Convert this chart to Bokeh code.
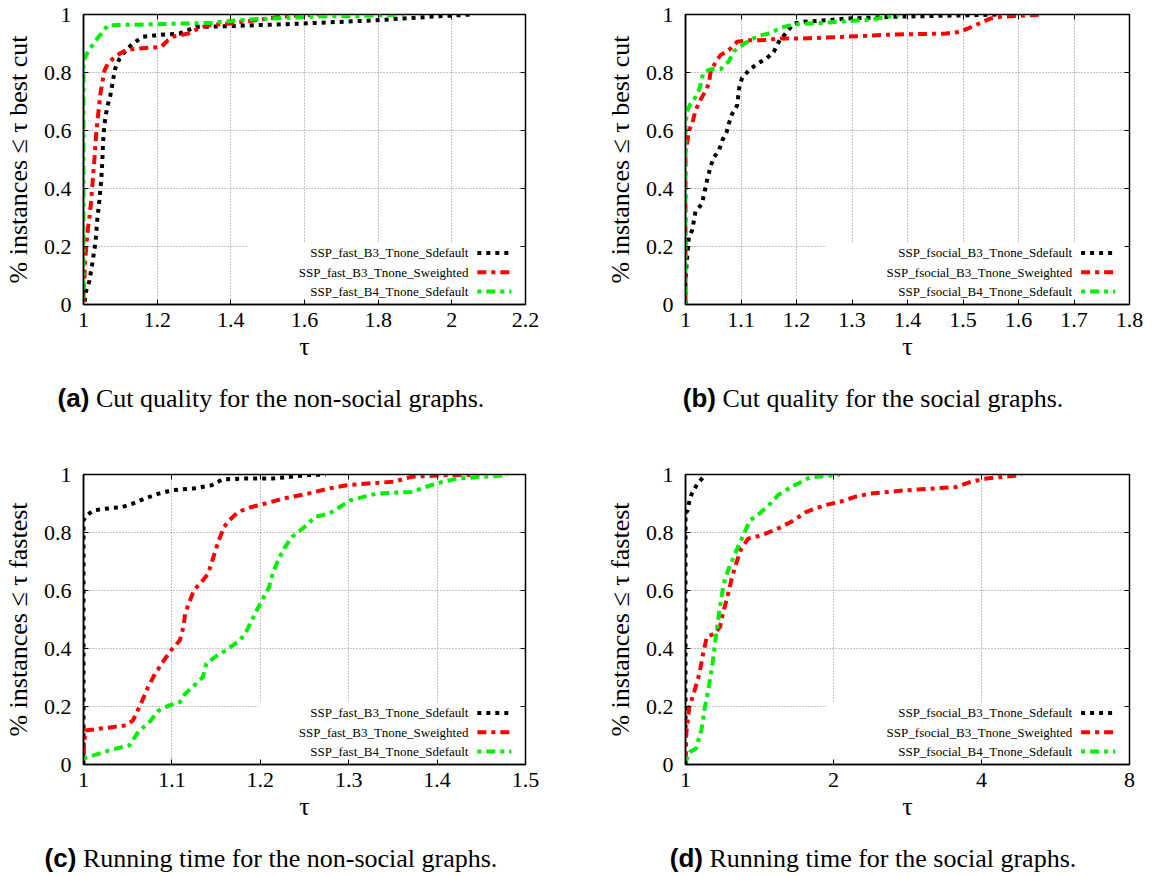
from bokeh.plotting import figure
from bokeh.models import (Range1d, FixedTicker, CustomJSTickFormatter, LinearAxis,
                          Label, Arrow, BoxAnnotation, Div)
from bokeh.layouts import column, row
from bokeh.embed import file_html
from bokeh.resources import INLINE

# ---------------- data ----------------
Y_TICKS = [0, 0.2, 0.4, 0.6, 0.8, 1]
Y_LABELS = ["0", "0.2", "0.4", "0.6", "0.8", "1"]

XT_A = [1, 1.2, 1.4, 1.6, 1.8, 2, 2.2]
XL_A = ["1", "1.2", "1.4", "1.6", "1.8", "2", "2.2"]
XT_B = [1, 1.1, 1.2, 1.3, 1.4, 1.5, 1.6, 1.7, 1.8]
XL_B = ["1", "1.1", "1.2", "1.3", "1.4", "1.5", "1.6", "1.7", "1.8"]
XT_C = [1, 1.1, 1.2, 1.3, 1.4, 1.5]
XL_C = ["1", "1.1", "1.2", "1.3", "1.4", "1.5"]
XT_D = [1, 2, 4, 8]
XL_D = ["1", "2", "4", "8"]

NAMES_NONSOCIAL = ["SSP_fast_B3_Tnone_Sdefault", "SSP_fast_B3_Tnone_Sweighted",
                   "SSP_fast_B4_Tnone_Sdefault"]
NAMES_SOCIAL = ["SSP_fsocial_B3_Tnone_Sdefault", "SSP_fsocial_B3_Tnone_Sweighted",
                "SSP_fsocial_B4_Tnone_Sdefault"]

# (a) cut quality, non-social
A_BLACK_X = [1.003, 1.007, 1.016, 1.025, 1.033, 1.037, 1.043, 1.048, 1.051, 1.053, 1.057, 1.064,
             1.073, 1.080, 1.086, 1.098, 1.116, 1.134, 1.161, 1.20, 1.26, 1.305, 1.40, 1.60,
             1.79, 1.94, 2.055]
A_BLACK_Y = [0.01, 0.046, 0.081, 0.150, 0.219, 0.288, 0.358, 0.427, 0.490, 0.559, 0.623, 0.680,
             0.721, 0.773, 0.813, 0.848, 0.877, 0.900, 0.923, 0.929, 0.934, 0.957, 0.96, 0.969,
             0.98, 0.992, 1.0]
A_RED_X = [1.0, 1.0, 1.005, 1.01, 1.016, 1.021, 1.025, 1.030, 1.033, 1.036, 1.041, 1.046, 1.052,
           1.057, 1.066, 1.080, 1.098, 1.120, 1.148, 1.184, 1.211, 1.229, 1.247, 1.283, 1.31,
           1.338, 1.397, 1.455, 1.532, 1.60, 1.64]
A_RED_Y = [0.01, 0.035, 0.16, 0.24, 0.30, 0.358, 0.427, 0.507, 0.565, 0.611, 0.669, 0.727, 0.773,
           0.807, 0.830, 0.848, 0.865, 0.879, 0.882, 0.886, 0.888, 0.911, 0.925, 0.934, 0.95,
           0.963, 0.969, 0.978, 0.992, 0.998, 1.0]
A_GREEN_X = [1.0, 1.0, 1.012, 1.030, 1.052, 1.066, 1.211, 1.347, 1.392, 1.455, 1.648, 1.745, 1.871]
A_GREEN_Y = [0.02, 0.842, 0.871, 0.905, 0.94, 0.963, 0.967, 0.971, 0.977, 0.983, 0.994, 0.995, 1.0]

# (b) cut quality, social
B_BLACK_X = [1.0, 1.0, 1.006, 1.012, 1.018, 1.03, 1.033, 1.039, 1.045, 1.051, 1.06, 1.066, 1.074,
             1.078, 1.084, 1.093, 1.097, 1.102, 1.114, 1.129, 1.146, 1.159, 1.168, 1.180, 1.195,
             1.213, 1.254, 1.290, 1.374, 1.569]
B_BLACK_Y = [0.0, 0.09, 0.233, 0.256, 0.32, 0.348, 0.377, 0.429, 0.475, 0.507, 0.53, 0.565, 0.594,
             0.623, 0.657, 0.686, 0.75, 0.782, 0.807, 0.83, 0.848, 0.871, 0.905, 0.934, 0.969,
             0.975, 0.98, 0.986, 0.992, 1.0]
B_RED_X = [1.0, 1.0, 1.003, 1.006, 1.012, 1.018, 1.026, 1.033, 1.042, 1.045, 1.054, 1.063, 1.078,
           1.093, 1.111, 1.135, 1.171, 1.207, 1.284, 1.374, 1.467, 1.495, 1.522, 1.549, 1.569,
           1.643]
B_RED_Y = [0.0, 0.55, 0.556, 0.60, 0.623, 0.669, 0.703, 0.726, 0.761, 0.80, 0.835, 0.86, 0.877,
           0.906, 0.911, 0.911, 0.917, 0.917, 0.923, 0.931, 0.934, 0.94, 0.963, 0.986, 0.992,
           1.0]
B_GREEN_X = [1.0, 1.0, 1.003, 1.009, 1.018, 1.024, 1.027, 1.032, 1.045, 1.063, 1.078, 1.087,
             1.099, 1.117, 1.135, 1.153, 1.171, 1.195, 1.243, 1.29, 1.338, 1.368, 1.386]
B_GREEN_Y = [0.0, 0.62, 0.669, 0.692, 0.715, 0.738, 0.757, 0.8, 0.811, 0.811, 0.838, 0.873,
             0.890, 0.913, 0.928, 0.936, 0.954, 0.966, 0.971, 0.977, 0.983, 0.994, 1.0]

# (c) running time, non-social
C_BLACK_X = [1.0, 1.0, 1.004, 1.012, 1.028, 1.044, 1.056, 1.069, 1.085, 1.101, 1.125, 1.145,
             1.157, 1.181, 1.214, 1.254, 1.274]
C_BLACK_Y = [0.0, 0.842, 0.86, 0.877, 0.883, 0.888, 0.9, 0.917, 0.934, 0.946, 0.952, 0.963,
             0.983, 0.986, 0.986, 0.998, 1.0]
C_RED_X = [1.0, 1.002, 1.028, 1.048, 1.056, 1.065, 1.073, 1.081, 1.091, 1.099, 1.109, 1.113,
           1.115, 1.119, 1.125, 1.135, 1.141, 1.147, 1.153, 1.159, 1.165, 1.175, 1.19, 1.206,
           1.226, 1.254, 1.278, 1.298, 1.331, 1.351, 1.371, 1.411, 1.448]
C_RED_Y = [0.037, 0.117, 0.127, 0.135, 0.152, 0.21, 0.267, 0.313, 0.359, 0.394, 0.428, 0.474,
           0.52, 0.555, 0.601, 0.635, 0.658, 0.716, 0.773, 0.819, 0.842, 0.871, 0.888, 0.9,
           0.917, 0.934, 0.952, 0.963, 0.971, 0.975, 0.992, 0.998, 1.0]
C_GREEN_X = [1.0, 1.028, 1.052, 1.063, 1.073, 1.085, 1.097, 1.109, 1.115, 1.127, 1.135, 1.139,
             1.149, 1.161, 1.177, 1.185, 1.196, 1.204, 1.210, 1.214, 1.220, 1.228, 1.236, 1.25,
             1.262, 1.278, 1.290, 1.302, 1.331, 1.371, 1.399, 1.423, 1.452, 1.480]
C_GREEN_Y = [0.02, 0.048, 0.066, 0.117, 0.14, 0.186, 0.204, 0.215, 0.244, 0.278, 0.301, 0.348,
             0.371, 0.394, 0.428, 0.463, 0.532, 0.578, 0.612, 0.658, 0.704, 0.75, 0.785, 0.819,
             0.854, 0.865, 0.888, 0.911, 0.934, 0.94, 0.969, 0.986, 0.992, 0.998]

# (d) running time, social (log2 x axis)
D_BLACK_X = [1.0, 1.0, 1.007, 1.018, 1.030, 1.058, 1.086, 1.095]
D_BLACK_Y = [0.0, 0.87, 0.871, 0.906, 0.934, 0.969, 0.99, 1.0]
D_RED_X = [1.0, 1.0035, 1.018, 1.039, 1.067, 1.086, 1.105, 1.145, 1.175, 1.196, 1.217, 1.239,
           1.261, 1.294, 1.341, 1.426, 1.543, 1.641, 1.760, 1.921, 2.062, 2.212, 2.373, 2.828,
           3.553, 3.812, 4.09, 4.79, 4.83]
D_RED_Y = [0.014, 0.106, 0.198, 0.244, 0.313, 0.382, 0.44, 0.451, 0.474, 0.532, 0.578, 0.635,
           0.681, 0.739, 0.779, 0.79, 0.814, 0.837, 0.871, 0.894, 0.906, 0.923, 0.934, 0.946,
           0.957, 0.975, 0.986, 0.998, 1.0]
D_GREEN_X = [1.0035, 1.021, 1.049, 1.077, 1.095, 1.115, 1.135, 1.155, 1.175, 1.196, 1.228, 1.261,
             1.306, 1.353, 1.413, 1.477, 1.543, 1.641, 1.791, 1.922, 2.062]
D_GREEN_Y = [0.014, 0.043, 0.054, 0.117, 0.198, 0.267, 0.348, 0.451, 0.543, 0.624, 0.681, 0.727,
             0.785, 0.842, 0.865, 0.894, 0.929, 0.957, 0.99, 0.994, 1.0]

CAPTIONS = [("(a)", "Cut quality for the non-social graphs."),
            ("(b)", "Cut quality for the social graphs."),
            ("(c)", "Running time for the non-social graphs."),
            ("(d)", "Running time for the social graphs.")]

YLABEL_CUT = "% instances \u2264 \u03c4 best cut"
YLABEL_TIME = "% instances \u2264 \u03c4 fastest"
XLABEL = "\u03c4"

# ---------------- styles ----------------
COLORS = ["#000000", "#ff0000", "#00ee00"]
DASHES = ["4 5", "9 5 4 5", "4 5 9 5"]
FONT = "serif"
FRAME_H = 290


def tick_fmt(ticks, labels):
    return CustomJSTickFormatter(
        args=dict(t=ticks, l=labels),
        code="const i = t.indexOf(tick); return i >= 0 ? l[i] : '';")


def make_panel(series, names, xr, xticks, xlabels, ylabel, log, box_left,
               frame_w, b_left, b_right, b_top):
    b_bottom = 70
    p = figure(width=b_left + frame_w + b_right, height=b_top + FRAME_H + b_bottom,
               x_range=Range1d(*xr), y_range=Range1d(0, 1),
               x_axis_type="log" if log else "linear",
               output_backend="svg", toolbar_location=None)
    # fonts first (same order as a configuration that renders serif correctly)
    for ax in (p.xaxis[0], p.yaxis[0]):
        ax.major_label_text_font = FONT
        ax.major_label_text_font_size = "22px"
        ax.axis_label_text_font = FONT
        ax.axis_label_text_font_size = "26px"
        ax.axis_label_text_font_style = "normal"
        ax.major_label_text_color = "#000000"
        ax.axis_label_text_color = "#000000"
    p.xaxis.axis_label = XLABEL
    p.yaxis.axis_label = ylabel

    p.frame_width = frame_w
    p.frame_height = FRAME_H
    p.min_border_left = b_left
    p.min_border_right = b_right
    p.min_border_top = b_top
    p.min_border_bottom = b_bottom
    p.outline_line_color = "#000000"
    p.outline_line_width = 1.5
    p.outline_line_alpha = 1.0

    p.xaxis.ticker = FixedTicker(ticks=xticks)
    p.xaxis.formatter = tick_fmt(xticks, xlabels)
    p.yaxis.ticker = FixedTicker(ticks=Y_TICKS)
    p.yaxis.formatter = tick_fmt(Y_TICKS, Y_LABELS)
    p.xgrid.ticker = FixedTicker(ticks=xticks)
    p.ygrid.ticker = FixedTicker(ticks=Y_TICKS)
    p.grid.grid_line_color = "#8a8a8a"
    p.grid.grid_line_dash = "1 2"

    for ax in (p.xaxis[0], p.yaxis[0]):
        ax.major_tick_in = 5
        ax.major_tick_out = 0
        ax.minor_tick_in = 0
        ax.minor_tick_out = 0
        ax.major_tick_line_color = "#000000"
        ax.axis_line_color = "#000000"
        ax.axis_line_width = 1.5
    p.yaxis.major_label_standoff = 12
    p.yaxis.axis_label_standoff = 8
    p.xaxis.major_label_standoff = 8
    p.xaxis.axis_label_standoff = 2

    # mirrored tick marks on the right and top edges
    for loc, ticks in (("right", Y_TICKS), ("above", xticks)):
        p.add_layout(LinearAxis(ticker=FixedTicker(ticks=ticks),
                                formatter=CustomJSTickFormatter(code="return '';"),
                                major_tick_in=5, major_tick_out=0,
                                minor_tick_in=0, minor_tick_out=0,
                                major_label_standoff=0,
                                major_label_text_font_size="1px"), loc)

    def fx(f):
        if log:
            return xr[0] * (xr[1] / xr[0]) ** f
        return xr[0] + f * (xr[1] - xr[0])

    # opaque key area (hides the grid like gnuplot's key box)
    p.add_layout(BoxAnnotation(left=fx(box_left), right=fx(0.996), bottom=0.005, top=0.214,
                               fill_color="white", fill_alpha=1.0, line_color=None,
                               level="underlay"))

    for (xs, ys), c, d in zip(series, COLORS, DASHES):
        p.line(xs, ys, line_color=c, line_width=4, line_dash=d)

    for name, c, d, yy in zip(names, COLORS, DASHES, (0.178, 0.111, 0.045)):
        p.add_layout(Label(x=fx(0.871), y=yy, text=name, text_align="right",
                           text_baseline="middle", text_font=FONT,
                           text_font_size="13px", text_color="#000000"))
        p.add_layout(Arrow(end=None, x_start=fx(0.891), x_end=fx(0.968),
                           y_start=yy, y_end=yy, line_color=c, line_width=4,
                           line_dash=d))
    return p


def caption(tag, text, width, height, pad_left):
    html = ("<div style=\"box-sizing:border-box;width:%dpx;padding-top:9px;padding-left:%dpx;"
            "text-align:center;white-space:nowrap;font-family:'Liberation Serif';"
            "font-size:26px;line-height:31px;color:#000;\">"
            "<span style=\"font-family:'Liberation Sans';font-weight:bold;\">%s</span> %s</div>"
            % (width, pad_left, tag, text))
    return Div(text=html, width=width, height=height, margin=(0, 0, 0, 0))


pa = make_panel([(A_BLACK_X, A_BLACK_Y), (A_RED_X, A_RED_Y), (A_GREEN_X, A_GREEN_Y)],
                NAMES_NONSOCIAL, (1, 2.2), XT_A, XL_A, YLABEL_CUT, False, 0.37,
                442, 82, 54, 14)
pb = make_panel([(B_BLACK_X, B_BLACK_Y), (B_RED_X, B_RED_Y), (B_GREEN_X, B_GREEN_Y)],
                NAMES_SOCIAL, (1, 1.8), XT_B, XL_B, YLABEL_CUT, False, 0.317,
                444, 106, 29, 14)
pc = make_panel([(C_BLACK_X, C_BLACK_Y), (C_RED_X, C_RED_Y), (C_GREEN_X, C_GREEN_Y)],
                NAMES_NONSOCIAL, (1, 1.5), XT_C, XL_C, YLABEL_TIME, False, 0.395,
                442, 82, 54, 50)
pd_ = make_panel([(D_BLACK_X, D_BLACK_Y), (D_RED_X, D_RED_Y), (D_GREEN_X, D_GREEN_Y)],
                 NAMES_SOCIAL, (1, 8), XT_D, XL_D, YLABEL_TIME, True, 0.317,
                 444, 106, 29, 50)

ca = caption(*CAPTIONS[0], 542, 50, 0)
cb = caption(*CAPTIONS[1], 579, 50, 9)
cc = caption(*CAPTIONS[2], 542, 40, 0)
cd = caption(*CAPTIONS[3], 579, 40, 9)

layout = column(row(column(pa, ca), column(pb, cb)),
                row(column(pc, cc), column(pd_, cd)))

open("out.html", "w").write(file_html(layout, INLINE))
